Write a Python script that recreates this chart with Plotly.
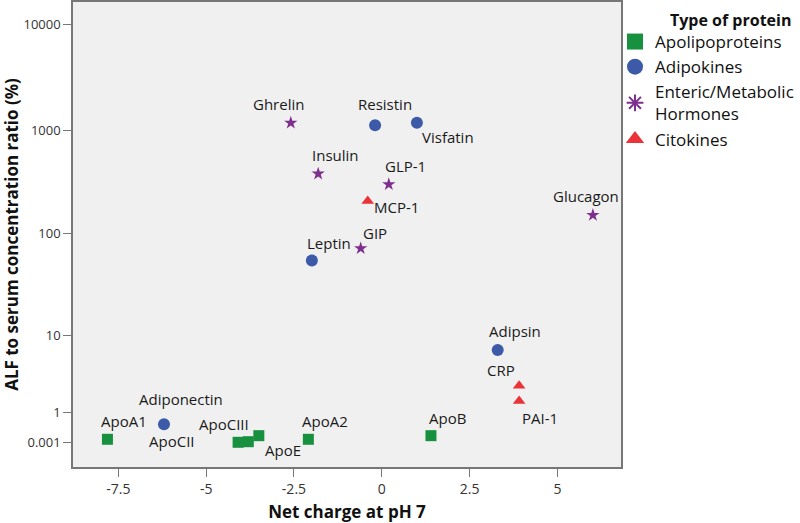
import numpy as np
import plotly.graph_objects as go

# ---------------- data ----------------
apo_names = ["ApoA1", "ApoCII", "ApoCIII", "ApoE", "ApoA2", "ApoB"]
apo_charge = [-7.81, -4.09, -3.80, -3.50, -2.09, 1.40]
apo_ratio = [0.002, 0.001, 0.00115, 0.0046, 0.002, 0.0046]

adipo_names = ["Adiponectin", "Resistin", "Visfatin", "Leptin", "Adipsin"]
adipo_charge = [-6.20, -0.19, 1.00, -1.99, 3.30]
adipo_ratio = [0.063, 1110, 1170, 54, 6.4]

horm_names = ["Ghrelin", "Insulin", "GLP-1", "GIP", "Glucagon"]
horm_charge = [-2.59, -1.81, 0.20, -0.60, 6.01]
horm_ratio = [1170, 377, 298, 71, 150]

cito_names = ["MCP-1", "CRP", "PAI-1"]
cito_charge = [-0.40, 3.91, 3.91]
cito_ratio = [205, 2.2, 1.4]

y_tick_values = [0.001, 1, 10, 100, 1000, 10000]
y_tick_labels = ["0.001", "1", "10", "100", "1000", "10000"]
x_tick_values = [-7.5, -5, -2.5, 0, 2.5, 5]
x_tick_labels = ["-7.5", "-5", "-2.5", "0", "2.5", "5"]

# label offsets (pixels) for each point label
label_shift = {
    "ApoA1": (17, 18), "ApoCII": (-66, 1), "ApoCIII": (-24, 18), "ApoE": (24, -14),
    "ApoA2": (17, 18), "ApoB": (17, 18),
    "Adiponectin": (17, 25), "Resistin": (10, 21), "Visfatin": (31, -14),
    "Leptin": (17, 18), "Adipsin": (17, 19),
    "Ghrelin": (-12, 19), "Insulin": (17, 19), "GLP-1": (17, 18), "GIP": (14, 15),
    "Glucagon": (-7, 19),
    "MCP-1": (29, -6), "CRP": (-18, 16), "PAI-1": (21, -17),
}

# --------- custom (piecewise log) y scale, as in the original axis ---------
tick_log = np.log10(y_tick_values)
tick_pos = np.array([0.2352, 0.5210, 1.2571, 2.2257, 3.2095, 4.2162])


def ypos(v):
    lv = np.log10(np.asarray(v, dtype=float))
    out = np.interp(lv, tick_log, tick_pos)
    lo = lv < tick_log[0]
    slope0 = (tick_pos[1] - tick_pos[0]) / (tick_log[1] - tick_log[0])
    out = np.where(lo, tick_pos[0] + (lv - tick_log[0]) * slope0, out)
    return out


GREEN = "#17903F"
BLUE = "#3C5AA8"
PURPLE = "#7E2F8E"
RED = "#EC3239"
FONT = "Open Sans"

series = [
    ("Apolipoproteins", apo_names, apo_charge, apo_ratio, "square", GREEN, 11,
     dict(symbol="square", size=16)),
    ("Adipokines", adipo_names, adipo_charge, adipo_ratio, "circle", BLUE, 12,
     dict(symbol="circle", size=17)),
    ("Enteric/Metabolic<br>Hormones", horm_names, horm_charge, horm_ratio, "star", PURPLE, 10,
     dict(symbol="asterisk-open", size=14, line=dict(width=2, color=PURPLE))),
    ("Citokines", cito_names, cito_charge, cito_ratio, "triangle-up", RED, 11,
     dict(symbol="triangle-up", size=17)),
]

fig = go.Figure()
annotations = []
for name, names, xs, ys, sym, col, sz, leg in series:
    fig.add_trace(go.Scatter(
        x=xs, y=ypos(ys), mode="markers", showlegend=False,
        marker=dict(symbol=sym, color=col, size=sz, line=dict(width=0)),
        text=names, hoverinfo="text",
    ))
    lm = dict(color=col, line=dict(width=0))
    lm.update(leg)
    fig.add_trace(go.Scatter(x=[None], y=[None], mode="markers", name=name, marker=lm))
    for n, xv, yv in zip(names, xs, ypos(ys)):
        dx, dy = label_shift[n]
        annotations.append(dict(
            x=xv, y=float(yv), xref="x", yref="y", text=n, showarrow=False,
            xshift=dx, yshift=dy, font=dict(family=FONT, size=15, color="#1a1a1a"),
        ))

annotations.append(dict(
    x=(793 - 73) / 548, y=(467 - 20) / 465, xref="paper", yref="paper",
    xanchor="right", yanchor="middle", showarrow=False,
    text="<b>Type of protein</b>", font=dict(family=FONT, size=16, color="#111"),
))

fig.update_layout(
    width=800, height=523,
    margin=dict(l=73, r=179, t=2, b=56, autoexpand=False),
    paper_bgcolor="white", plot_bgcolor="#F0F0F0",
    font=dict(family=FONT, size=12, color="#222"),
    annotations=annotations,
    legend=dict(
        x=(615 - 73) / 548, xanchor="left", y=(467 - 24) / 465, yanchor="top",
        xref="paper", yref="paper",
        font=dict(size=17, family=FONT, color="#111"),
        itemsizing="trace", tracegroupgap=0, itemwidth=30,
        bgcolor="rgba(0,0,0,0)",
    ),
    showlegend=True,
)

fig.update_xaxes(
    range=[-8.79, 6.81], tickvals=x_tick_values, ticktext=x_tick_labels,
    showgrid=False, zeroline=False, showline=True, mirror=True,
    linecolor="#777", linewidth=1.5, ticks="outside", ticklen=8, tickcolor="#777",
    tickfont=dict(size=14, color="#333"),
    title=dict(text="<b>Net charge at pH 7</b>", font=dict(size=17, color="#111"), standoff=12),
)
fig.update_yaxes(
    range=[0, 465 / 105], tickvals=ypos(y_tick_values), ticktext=y_tick_labels,
    showgrid=False, zeroline=False, showline=True, mirror=True,
    linecolor="#777", linewidth=1.5, ticks="outside", ticklen=8, tickcolor="#777",
    tickfont=dict(size=13, color="#333"),
    title=dict(text="<b>ALF to serum concentration ratio (%)</b>", font=dict(size=17, color="#111"), standoff=8),
)

fig.write_html(
    "out.html",
    config={"displayModeBar": False},
    post_script="document.body.style.margin='0';document.body.style.overflow='hidden';",
)
